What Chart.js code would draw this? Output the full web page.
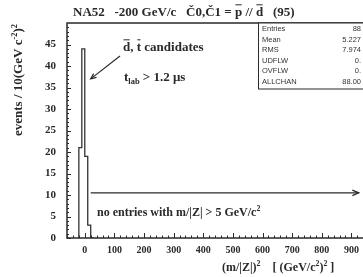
<!DOCTYPE html>
<html lang="en">
<head>
<meta charset="UTF-8">
<title>NA52 m/Z histogram</title>
<script src="https://cdn.jsdelivr.net/npm/chart.js"></script>
<style>
  html, body { margin: 0; padding: 0; background: #fff; overflow: hidden; }
  #wrap { width: 383px; height: 277px; }
</style>
</head>
<body>
<div id="wrap"><canvas id="histo" width="383" height="277"></canvas></div>
<script>
// histogram bins, 10 (GeV/c^2)^2 wide
var binEdges = [-20, -10, 0, 10, 20, 30];
var counts = [1, 21, 44, 19, 3];
var xTicks = [0, 100, 200, 300, 400, 500, 600, 700, 800, 900];
var yTicks = [0, 5, 10, 15, 20, 25, 30, 35, 40, 45];
var statNames = ['Entries', 'Mean', 'RMS', 'UDFLW', 'OVFLW', 'ALLCHAN'];
var statValues = ['88', '5.227', '7.974', '0.', '0.', '88.00'];

var SERIF = '"Liberation Serif", "DejaVu Serif", serif';
var INK = '#2a2a2a';

// step outline of the histogram
var stepPts = [{x: binEdges[0], y: 0}];
for (var i = 0; i < counts.length; i++) {
  stepPts.push({x: binEdges[i], y: counts[i]});
}
stepPts.push({x: binEdges[binEdges.length - 1], y: 0});

// draw a run of text pieces: {t, o: overline, s: 'sup'|'sub'}
function richWidth(ctx, parts, size) {
  var w = 0;
  parts.forEach(function (p) {
    var sz = p.s ? size * 0.65 : size;
    ctx.font = 'bold ' + sz + 'px ' + SERIF;
    w += ctx.measureText(p.t).width;
  });
  return w;
}
function drawRich(ctx, x, y, parts, size) {
  ctx.textBaseline = 'alphabetic';
  ctx.textAlign = 'left';
  parts.forEach(function (p) {
    var sz = p.s ? size * 0.65 : size;
    var dy = p.s === 'sup' ? -size * 0.42 : (p.s === 'sub' ? size * 0.22 : 0);
    ctx.font = 'bold ' + sz + 'px ' + SERIF;
    var w = ctx.measureText(p.t).width;
    ctx.fillText(p.t, x, y + dy);
    if (p.o) {
      ctx.beginPath();
      ctx.lineWidth = 1;
      ctx.moveTo(x + 0.5, y - size * 0.86);
      ctx.lineTo(x + w - 0.5, y - size * 0.86);
      ctx.stroke();
    }
    x += w;
  });
}

function arrow(ctx, x1, y1, x2, y2, head) {
  ctx.beginPath();
  ctx.moveTo(x1, y1);
  ctx.lineTo(x2, y2);
  ctx.stroke();
  var a = Math.atan2(y2 - y1, x2 - x1);
  ctx.beginPath();
  ctx.moveTo(x2 - head * Math.cos(a - 0.4), y2 - head * Math.sin(a - 0.4));
  ctx.lineTo(x2, y2);
  ctx.lineTo(x2 - head * Math.cos(a + 0.4), y2 - head * Math.sin(a + 0.4));
  ctx.stroke();
}

var decor = {
  id: 'decor',
  afterDraw: function (chart) {
    var ctx = chart.ctx, a = chart.chartArea;
    var xs = chart.scales.x, ys = chart.scales.y;
    ctx.save();
    ctx.strokeStyle = INK;
    ctx.fillStyle = INK;

    // frame
    ctx.lineWidth = 1.5;
    ctx.strokeRect(a.left, a.top, a.right - a.left, a.bottom - a.top);

    // inward ticks
    ctx.lineWidth = 1;
    ctx.beginPath();
    for (var v = 0; v <= 49; v++) {
      var py = Math.round(ys.getPixelForValue(v)) + 0.5;
      var len = v % 5 === 0 ? 4 : 2;
      ctx.moveTo(a.left, py); ctx.lineTo(a.left + len, py);
    }
    for (var u = -60; u <= 1000; u += 20) {
      var px = Math.round(xs.getPixelForValue(u)) + 0.5;
      var l2 = u % 100 === 0 ? 5 : 2.5;
      ctx.moveTo(px, a.bottom); ctx.lineTo(px, a.bottom - l2);
    }
    ctx.stroke();

    // title
    drawRich(ctx, 73, 16, [
      {t: 'NA52   -200 GeV/c   \u010C0,\u010C1 = '},
      {t: 'p', o: true}, {t: ' // '}, {t: 'd', o: true},
      {t: '   (95)'}
    ], 13);

    // y axis title
    ctx.save();
    ctx.translate(22, 80);
    ctx.rotate(-Math.PI / 2);
    var yt = [{t: 'events / 10(GeV c'}, {t: '-2', s: 'sup'}, {t: ')'}, {t: '2', s: 'sup'}];
    drawRich(ctx, -richWidth(ctx, yt, 13) / 2, 0, yt, 13);
    ctx.restore();

    // x axis title
    drawRich(ctx, 222, 271, [
      {t: '(m/|Z|)'}, {t: '2', s: 'sup'}, {t: '    [ (GeV/c'}, {t: '2', s: 'sup'}, {t: ')'}, {t: '2', s: 'sup'}, {t: ' ]'}
    ], 12);

    // candidates label and arrow
    drawRich(ctx, 123, 51, [{t: 'd', o: true}, {t: ', '}, {t: 't', o: true}, {t: ' candidates'}], 13);
    drawRich(ctx, 124, 81, [{t: 't'}, {t: 'lab', s: 'sub'}, {t: ' > 1.2 \u03bcs'}], 13);
    ctx.lineWidth = 1.2;
    arrow(ctx, 120, 56, xs.getPixelForValue(20), ys.getPixelForValue(37), 6);

    // no-entries arrow and label
    var yh = ys.getPixelForValue(10.5);
    arrow(ctx, xs.getPixelForValue(20), yh, xs.getPixelForValue(925), yh, 7);
    drawRich(ctx, 97, 216, [{t: 'no entries with m/|Z| > 5 GeV/c'}, {t: '2', s: 'sup'}], 12);

    // stats box
    var bx = 258, by = a.top, bw = a.right - bx, bh = 66;
    ctx.fillStyle = '#fff';
    ctx.fillRect(bx, by, bw, bh);
    ctx.lineWidth = 1;
    ctx.strokeRect(bx + 0.5, by, bw, bh);
    ctx.fillStyle = '#333';
    ctx.font = '7.5px "Liberation Sans", Arial, sans-serif';
    ctx.textBaseline = 'middle';
    for (var k = 0; k < statNames.length; k++) {
      var ry = by + 6 + k * 10.5;
      ctx.textAlign = 'left';
      ctx.fillText(statNames[k], bx + 4, ry);
      ctx.textAlign = 'right';
      ctx.fillText(statValues[k], 361, ry);
    }
    ctx.restore();
  }
};

new Chart(document.getElementById('histo'), {
  type: 'line',
  data: {
    datasets: [{
      data: stepPts,
      stepped: 'after',
      borderColor: '#333',
      borderWidth: 1.3,
      pointRadius: 0,
      fill: false
    }]
  },
  options: {
    responsive: false,
    animation: false,
    layout: {padding: {left: 0, top: 23, right: 2, bottom: 0}},
    plugins: {legend: {display: false}, tooltip: {enabled: false}},
    scales: {
      x: {
        type: 'linear', min: -60, max: 1000,
        afterBuildTicks: function (s) { s.ticks = xTicks.map(function (v) { return {value: v}; }); },
        afterFit: function (s) { s.height = 277 - 238; },
        grid: {display: false, drawTicks: false},
        border: {display: false},
        ticks: {color: INK, padding: 6, maxRotation: 0, autoSkip: false,
                font: {family: SERIF, size: 10, weight: 'bold'}}
      },
      y: {
        min: 0, max: 50,
        afterBuildTicks: function (s) { s.ticks = yTicks.map(function (v) { return {value: v}; }); },
        afterFit: function (s) { s.width = 67; },
        grid: {display: false, drawTicks: false},
        border: {display: false},
        ticks: {color: INK, padding: 11, font: {family: SERIF, size: 11, weight: 'bold'}}
      }
    }
  },
  plugins: [decor]
});
</script>
</body>
</html>
